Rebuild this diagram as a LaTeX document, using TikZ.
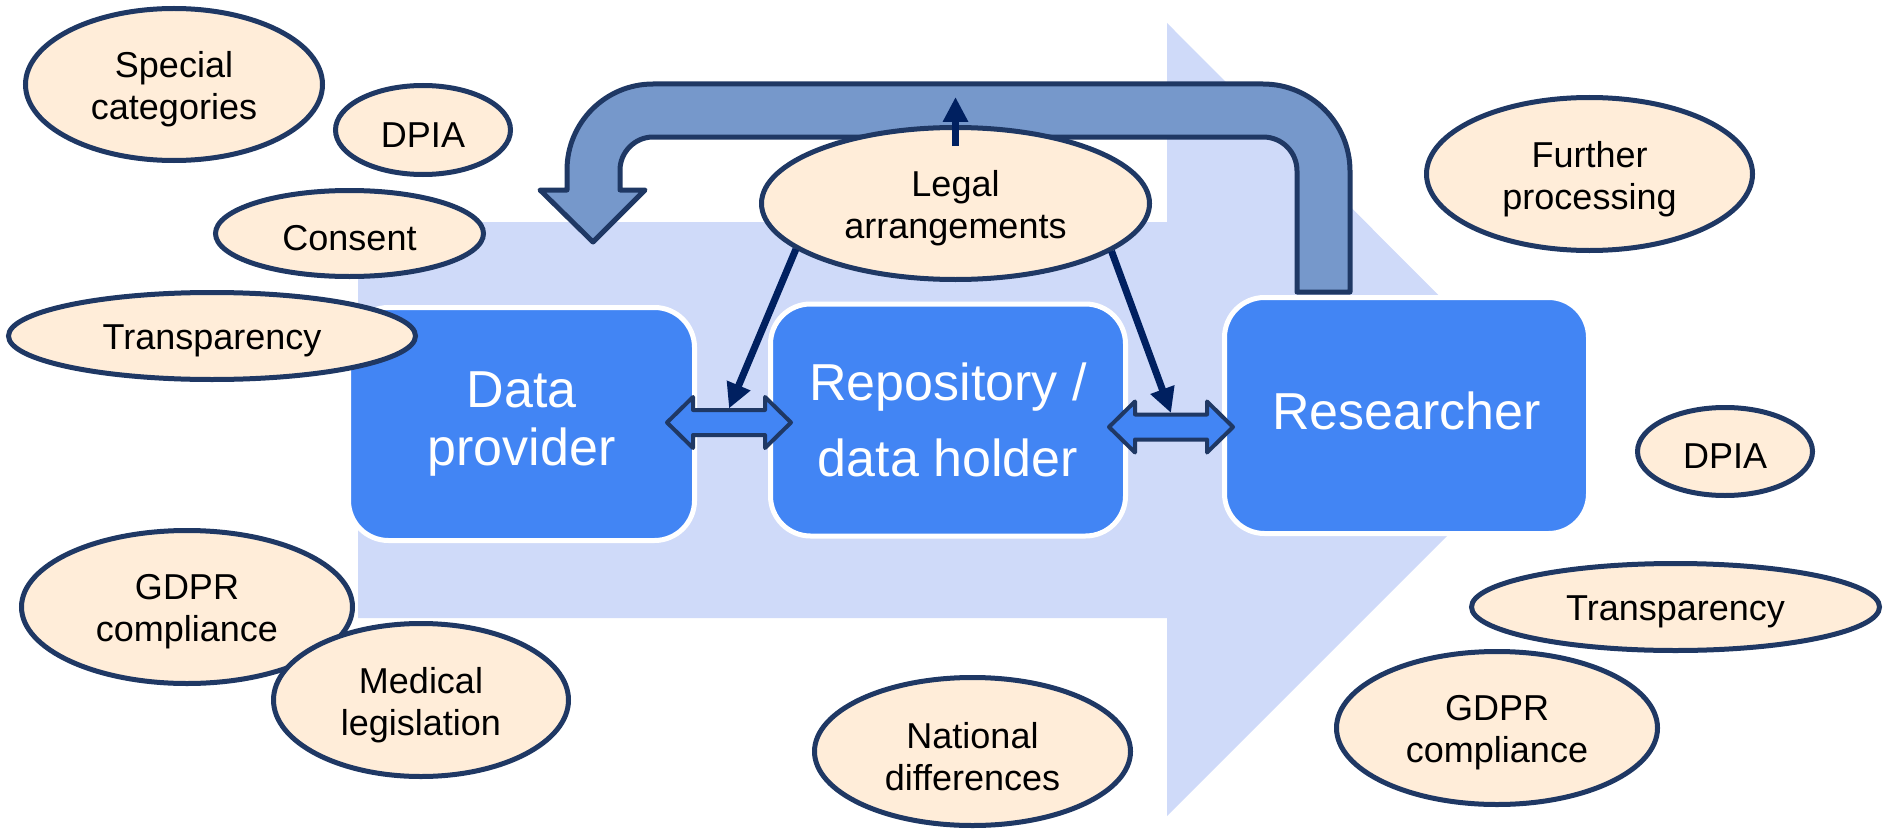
\documentclass[tikz,border=0pt]{standalone}
\usepackage{fontspec}
\setmainfont{Liberation Sans}
\usetikzlibrary{arrows.meta,shapes.geometric}
\definecolor{bodyblue}{HTML}{CFDAF9}
\definecolor{boxblue}{HTML}{4285F4}
\definecolor{curvfill}{HTML}{7698CB}
\definecolor{navyline}{HTML}{1F3864}
\definecolor{peach}{HTML}{FFEDD9}
\definecolor{arrnavy}{HTML}{002060}
\newcommand\ellfont{\fontsize{36pt}{42pt}\selectfont}
\newcommand\boxfontA{\fontsize{52pt}{58pt}\selectfont}
\newcommand\boxfontB{\fontsize{52pt}{76pt}\selectfont}
\begin{document}
\begin{tikzpicture}[x=1pt,y=-1pt,
  ellabel/.style={align=center, font=\ellfont, text=black, inner sep=0pt, yshift=-5pt},
  ell/.style={ellipse, draw=navyline, line width=5pt, fill=peach, inner sep=0pt, label={[ellabel]center:#1}},
  esize/.style 2 args={minimum width=#1pt-5pt, minimum height=#2pt-5pt},
  box/.style={rectangle, rounded corners=40pt, draw=white, line width=5pt, fill=boxblue, text=white, align=center, inner sep=0pt},
  thinarr/.style={draw=arrnavy, line width=7pt, -{Triangle[length=25pt,width=24pt]}},
  dbl/.style={draw=navyline, line width=4pt, fill=boxblue, line join=round},
  curv/.style={draw=navyline, line width=5pt, fill=curvfill, line join=round}]
\useasboundingbox (0,0) rectangle (1886,832);

% big light-blue arrow
\fill[bodyblue] (358,222) -- (1167,222) -- (1167,23) -- (1563,420) -- (1167,816) -- (1167,618) -- (358,618) -- cycle;

% curved feedback arrow
\draw[curv] (1350,292) -- (1350,171)
  .. controls (1350,123) and (1311,84) .. (1263,84)
  -- (653,84)
  .. controls (605.5,84) and (567,122.5) .. (567,170)
  -- (567,190) -- (540,190) -- (593,242) -- (645,190) -- (620,190) -- (620,170)
  .. controls (620,152) and (635,137) .. (653,137)
  -- (1263,137)
  .. controls (1282,137) and (1297,152) .. (1297,171)
  -- (1297,292) -- cycle;

% boxes
\node[box, minimum width=346pt, minimum height=233pt, font=\boxfontA] (prov) at (521.5,424) {Data\\provider};
\node[box, minimum width=355pt, minimum height=232pt, font=\boxfontB] (repo) at (948,420) {Repository /\\data holder};
\node[box, minimum width=364pt, minimum height=236pt, font=\boxfontA, text depth=10pt] (res) at (1406.5,415.5) {Researcher};

% double arrows
\coordinate (dblL) at (729,422.5);
\coordinate (dblR) at (1171,427);
\draw[dbl] ([xshift=-62pt]dblL) -- ++(26,-25.5) -- ++(0,13) -- ++(72,0) -- ++(0,-13) -- ++(26,25.5) -- ++(-26,25.5) -- ++(0,-13) -- ++(-72,0) -- ++(0,13) -- cycle;
\draw[dbl] ([xshift=-62pt]dblR) -- ++(26,-25.5) -- ++(0,13) -- ++(72,0) -- ++(0,-13) -- ++(26,25.5) -- ++(-26,25.5) -- ++(0,-13) -- ++(-72,0) -- ++(0,13) -- cycle;

% ellipses
\node[ell={Special\\categories}, esize={302}{157}] (spec) at (174,84.5) {};
\node[ell={DPIA}, esize={180}{94}] (dpia1) at (423,130) {};
\node[ell={Consent}, esize={273}{91}] (cons) at (349.5,233.5) {};
\node[ell={Transparency}, esize={412}{92}] (trans1) at (212,336) {};
\node[ell={GDPR\\compliance}, esize={336}{158}] (gdpr1) at (187,607) {};
\node[ell={Medical\\legislation}, esize={300}{158}] (med) at (421,700) {};
\node[ell={National\\differences}, esize={321}{153}] (nat) at (972.5,751.5) {};
\node[ell={Legal\\arrangements}, esize={393}{157}] (legal) at (955.5,203.5) {};
\node[ell={Further\\processing}, esize={331}{158}] (fur) at (1589.5,174) {};
\node[ell={DPIA}, esize={180}{93}] (dpia2) at (1725,451.5) {};
\node[ell={Transparency}, esize={413}{92}] (trans2) at (1675.5,607) {};
\node[ell={GDPR\\compliance}, esize={326}{158}] (gdpr2) at (1497,728) {};

% thin arrows
\coordinate (uptip) at (955.5,97);
\draw[thinarr] (legal.196) -- ([yshift=14pt]dblL);
\draw[thinarr] (legal.343) -- ([yshift=14pt]dblR);
\draw[thinarr] ([yshift=-21pt]legal.north) -- (uptip);
\end{tikzpicture}
\end{document}
